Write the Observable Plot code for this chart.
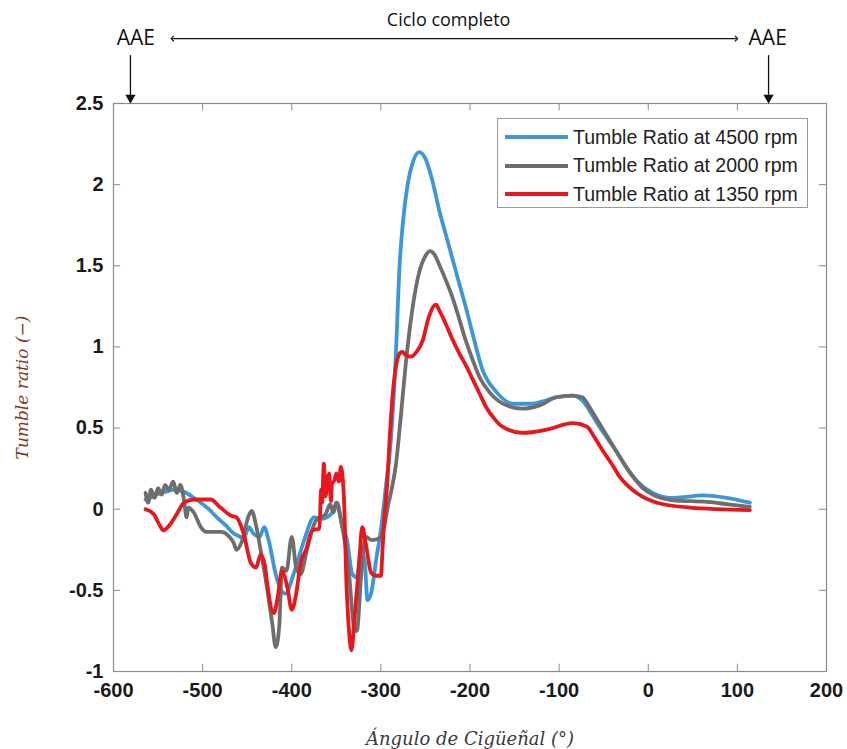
<!DOCTYPE html>
<html>
<head>
<meta charset="utf-8">
<script src="https://cdn.jsdelivr.net/npm/d3@7"></script>
<script src="https://cdn.jsdelivr.net/npm/@observablehq/plot@0.6"></script>
<style>
  body { margin: 0; background: #fff; }
  #wrap { position: relative; width: 847px; height: 749px; }
  .legend { position: absolute; left: 497px; top: 118px; width: 311px; height: 90px;
    border: 1px solid #9a9a9a; background: #fff; box-sizing: border-box;
    font-family: "Liberation Sans", Arial, sans-serif; font-size: 19.5px; color: #222; padding-top: 4px; }
  .row { display: flex; align-items: center; height: 28.5px; white-space: nowrap; }
  .sw { width: 63px; height: 4px; margin-left: 7px; margin-right: 5px; flex: none; }
</style>
</head>
<body>
<div id="wrap"></div>
<script>
// ---- Data ----
const seriesNames = ["Tumble Ratio at 4500 rpm", "Tumble Ratio at 2000 rpm", "Tumble Ratio at 1350 rpm"];
const seriesColors = ["#3b98d6", "#6e6e6e", "#e8161d"];
const xTicks = [-600, -500, -400, -300, -200, -100, 0, 100, 200];
const yTicks = [-1, -0.5, 0, 0.5, 1, 1.5, 2, 2.5];
const yTickLabels = ["-1", "-0.5", "0", "0.5", "1", "1.5", "2", "2.5"];

const tr4500 = [[-564,0.06],[-555,0.08],[-547,0.10],[-540,0.11],[-533,0.12],[-525,0.115],[-518,0.10],[-510,0.07],[-502,0.04],[-493,0.0],
[-484,-0.05],[-474,-0.10],[-465,-0.15],[-458,-0.17],[-454,-0.18],[-448,-0.11],[-443,-0.15],[-436,-0.17],[-431,-0.11],[-426,-0.19],
[-418,-0.40],[-412,-0.50],[-407,-0.52],[-398,-0.40],[-386,-0.19],[-375,-0.05],[-367,-0.06],[-356,-0.03],[-349,0.04],[-344,-0.09],
[-338,-0.19],[-332,-0.40],[-327,-0.42],[-322,-0.25],[-318,-0.33],[-315,-0.56],[-311,-0.52],[-305,-0.30],[-300,-0.13],[-294,0.16],
[-290,0.35],[-286,0.65],[-283,0.98],[-279,1.50],[-275,1.78],[-270,2.00],[-264,2.14],[-257,2.20],[-250,2.16],[-242,2.02],
[-234,1.83],[-227,1.69],[-220,1.55],[-212,1.39],[-204,1.23],[-197,1.08],[-186,0.86],[-170,0.72],[-152,0.65],[-130,0.65],
[-115,0.67],[-103,0.69],[-85,0.70],[-74,0.67],[-65,0.60],[-55,0.51],[-45,0.43],[-35,0.35],[-26,0.27],[-17,0.20],
[-6,0.14],[5,0.10],[24,0.07],[40,0.075],[61,0.085],[88,0.07],[114,0.04]];

const tr2000 = [[-564,0.10],[-561,0.04],[-558,0.12],[-554,0.07],[-550,0.13],[-546,0.09],[-542,0.15],[-538,0.12],[-533,0.17],[-529,0.10],
[-525,0.15],[-521,0.06],[-518,-0.05],[-516,0.01],[-510,-0.02],[-502,-0.11],[-496,-0.14],[-480,-0.14],[-470,-0.17],[-465,-0.21],
[-462,-0.25],[-456,-0.20],[-449,-0.05],[-445,-0.01],[-440,-0.10],[-435,-0.25],[-429,-0.44],[-422,-0.70],[-418,-0.85],[-414,-0.72],
[-411,-0.36],[-406,-0.38],[-400,-0.17],[-395,-0.36],[-390,-0.40],[-383,-0.25],[-373,-0.07],[-362,-0.03],[-357,0.03],[-353,-0.02],
[-350,0.04],[-344,-0.09],[-336,-0.38],[-330,-0.73],[-327,-0.75],[-322,-0.40],[-317,-0.17],[-310,-0.19],[-302,-0.18],[-296,-0.10],
[-292,0.02],[-288,0.12],[-283,0.28],[-278,0.55],[-272,0.90],[-265,1.22],[-257,1.46],[-250,1.56],[-245,1.59],[-240,1.57],
[-234,1.50],[-227,1.41],[-220,1.31],[-213,1.19],[-206,1.06],[-197,0.92],[-189,0.81],[-178,0.72],[-159,0.64],[-141,0.62],
[-122,0.64],[-103,0.69],[-86,0.70],[-74,0.69],[-65,0.62],[-55,0.53],[-45,0.44],[-35,0.35],[-26,0.27],[-17,0.20],
[-6,0.13],[5,0.09],[28,0.055],[66,0.045],[90,0.03],[114,0.015]];

const tr1350 = [[-564,0.00],[-555,-0.03],[-548,-0.10],[-544,-0.13],[-536,-0.09],[-528,-0.02],[-521,0.04],[-510,0.06],[-491,0.06],[-480,0.01],
[-468,-0.04],[-462,-0.05],[-454,-0.15],[-446,-0.33],[-440,-0.36],[-435,-0.28],[-430,-0.35],[-428,-0.44],[-420,-0.64],[-416,-0.55],
[-411,-0.38],[-405,-0.48],[-400,-0.62],[-395,-0.52],[-390,-0.33],[-384,-0.25],[-377,-0.13],[-369,-0.12],[-367,0.12],[-366,0.04],
[-364,0.28],[-362,0.08],[-360,0.18],[-358,0.22],[-356,0.05],[-355,0.15],[-352,0.18],[-350,0.22],[-347,0.17],[-345,0.26],
[-343,0.20],[-341,0.01],[-339,-0.40],[-336,-0.73],[-333,-0.87],[-330,-0.70],[-324,-0.30],[-321,-0.11],[-317,-0.21],[-311,-0.39],
[-305,-0.41],[-300,-0.41],[-298,-0.23],[-296,-0.05],[-293,0.15],[-290,0.45],[-287,0.69],[-283,0.88],[-279,0.96],[-276,0.97],
[-272,0.95],[-266,0.94],[-260,0.97],[-253,1.04],[-247,1.17],[-241,1.25],[-238,1.26],[-234,1.22],[-227,1.14],[-220,1.05],
[-212,0.96],[-204,0.88],[-197,0.80],[-189,0.71],[-182,0.63],[-173,0.56],[-164,0.51],[-141,0.47],[-114,0.49],[-85,0.53],
[-69,0.51],[-60,0.44],[-51,0.36],[-41,0.28],[-32,0.20],[-22,0.14],[-13,0.10],[10,0.04],[47,0.01],[114,-0.005]];

// Annotation positions (in data units: crank angle / tumble ratio above the frame)
const aaeAngles = [-575, 134];
const aaeArrowAngles = [-581, 135];
const cycleStart = -534, cycleEnd = 99;
const annotY = 2.90;

const allSeries = [tr4500, tr2000, tr1350];
const table = allSeries.flatMap((s, i) => s.map(([a, t]) => ({angle: a, tr: t, series: seriesNames[i]})));

const frameColor = "#8c8c8c";
const tickLenY = 0.045;   // inward tick length in y units
const tickLenX = 8;       // inward tick length in x units
const tickFont = "Liberation Sans, Arial, sans-serif";

const chart = Plot.plot({
  width: 847,
  height: 749,
  marginLeft: 113,
  marginRight: 21,
  marginTop: 103,
  marginBottom: 78,
  style: {background: "white", overflow: "visible"},
  x: {domain: [-600, 200]},
  y: {domain: [-1, 2.5]},
  marks: [
    Plot.frame({stroke: frameColor, strokeWidth: 1.2}),
    Plot.ruleX(xTicks, {x: d => d, y1: -1, y2: -1 + tickLenY, stroke: frameColor}),
    Plot.ruleX(xTicks, {x: d => d, y1: 2.5, y2: 2.5 - tickLenY, stroke: frameColor}),
    Plot.ruleY(yTicks, {y: d => d, x1: -600, x2: -600 + tickLenX, stroke: frameColor}),
    Plot.ruleY(yTicks, {y: d => d, x1: 200, x2: 200 - tickLenX, stroke: frameColor}),
    Plot.axisX({ticks: xTicks, tickSize: 0, tickPadding: 11, tickFormat: d => String(d), label: null,
      fontSize: 20, fontFamily: tickFont, fontWeight: "bold", fill: "#1a1a1a"}),
    Plot.axisY({ticks: yTicks, tickSize: 0, tickPadding: 10, tickFormat: d => yTickLabels[yTicks.indexOf(d)], label: null,
      fontSize: 20, fontFamily: tickFont, fontWeight: "bold", fill: "#1a1a1a"}),
    ...seriesNames.map((name, i) =>
      Plot.line(table.filter(d => d.series === name), {
        x: "angle", y: "tr", stroke: seriesColors[i], strokeWidth: 3.8, curve: "monotone-x"
      })
    ),
    // axis titles
    Plot.text(["Ángulo de Cigüeñal (°)"], {frameAnchor: "bottom", dy: 73, fontSize: 18,
      fontFamily: "DejaVu Serif, serif", fontStyle: "italic", fill: "#3a3a3a"}),
    Plot.text(["Tumble ratio (−)"], {frameAnchor: "left", dx: -91, rotate: -90, textAnchor: "middle", fontSize: 17,
      fontFamily: "DejaVu Serif, serif", fontStyle: "italic", fill: "#7a3e28"}),
    // top annotations
    Plot.text(aaeAngles, {x: d => d, y: annotY, text: () => "AAE", fontSize: 21,
      fontFamily: "Open Sans, sans-serif", fill: "#111"}),
    Plot.text(["Ciclo completo"], {x: -224, y: 3.01, fontSize: 18,
      fontFamily: "Open Sans, sans-serif", fill: "#111"}),
    Plot.link([0], {x1: cycleStart, x2: cycleEnd, y1: annotY, y2: annotY, stroke: "#111", strokeWidth: 1.2,
      markerStart: "arrow-reverse", markerEnd: "arrow"}),
    Plot.ruleX(aaeArrowAngles, {x: d => d, y1: 2.795, y2: 2.55, stroke: "#111", strokeWidth: 1.3}),
    Plot.dot(aaeArrowAngles, {x: d => d, y: 2.535, symbol: "triangle", r: 3.8, fill: "#111", rotate: 180})
  ]
});

const wrap = document.getElementById("wrap");
wrap.appendChild(chart);

const legend = document.createElement("div");
legend.className = "legend";
seriesNames.forEach((name, i) => {
  const row = document.createElement("div");
  row.className = "row";
  const sw = document.createElement("span");
  sw.className = "sw";
  sw.style.background = seriesColors[i];
  const lab = document.createElement("span");
  lab.textContent = name;
  row.appendChild(sw);
  row.appendChild(lab);
  legend.appendChild(row);
});
wrap.appendChild(legend);
</script>
</body>
</html>
